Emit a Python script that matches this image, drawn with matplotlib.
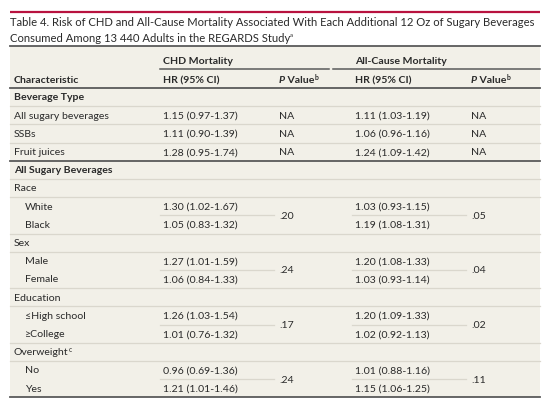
import matplotlib
matplotlib.use("Agg")
import matplotlib.pyplot as plt

plt.rcParams['font.family'] = ['Lato', 'DejaVu Sans']

title_lines = ["Table 4. Risk of CHD and All-Cause Mortality Associated With Each Additional 12 Oz of Sugary Beverages",
               "Consumed Among 13 440 Adults in the REGARDS Study"]
group_headers = ["CHD Mortality", "All-Cause Mortality"]
col_headers = ["Characteristic", "HR (95% CI)", "P Value", "HR (95% CI)", "P Value"]

# row label, level (0 = section bold, 1 = subgroup, 2 = indented item)
labels = ["Beverage Type", "All sugary beverages", "SSBs", "Fruit juices",
          "All Sugary Beverages", "Race", "White", "Black", "Sex", "Male", "Female",
          "Education", "\u2264High school", "\u2265College", "Overweight", "No", "Yes"]
levels = [0, 1, 1, 1, 0, 1, 2, 2, 1, 2, 2, 1, 2, 2, 1, 2, 2]
chd_hr = ["", "1.15 (0.97-1.37)", "1.11 (0.90-1.39)", "1.28 (0.95-1.74)",
          "", "", "1.30 (1.02-1.67)", "1.05 (0.83-1.32)", "", "1.27 (1.01-1.59)", "1.06 (0.84-1.33)",
          "", "1.26 (1.03-1.54)", "1.01 (0.76-1.32)", "", "0.96 (0.69-1.36)", "1.21 (1.01-1.46)"]
all_hr = ["", "1.11 (1.03-1.19)", "1.06 (0.96-1.16)", "1.24 (1.09-1.42)",
          "", "", "1.03 (0.93-1.15)", "1.19 (1.08-1.31)", "", "1.20 (1.08-1.33)", "1.03 (0.93-1.14)",
          "", "1.20 (1.09-1.33)", "1.02 (0.92-1.13)", "", "1.01 (0.88-1.16)", "1.15 (1.06-1.25)"]
chd_p = ["", "NA", "NA", "NA", "", "", ".20", None, "", ".24", None, "", ".17", None, "", ".24", None]
all_p = ["", "NA", "NA", "NA", "", "", ".05", None, "", ".04", None, "", ".02", None, "", ".11", None]

W, H = 550, 410
fig = plt.figure(figsize=(W / 100, H / 100), dpi=100)
ax = fig.add_axes([0, 0, 1, 1])
ax.set_xlim(0, W)
ax.set_ylim(H, 0)
ax.axis('off')
fig.patch.set_facecolor('white')

BG = '#f2f0e8'
TXT = '#2a2a2a'
DARK = '#5a5a5a'
LIGHT = '#dad7cd'
RED = '#b8123f'

L, R = 10, 540
X_CHAR, X_IND = 14, 25
X_HR1, X_P1, X_HR2, X_P2 = 163, 279, 355, 471

renderer = fig.canvas.get_renderer()

def fit_size(txt, target_px, base=10.0, **kw):
    t = ax.text(0, 0, txt, fontsize=base, **kw)
    w = t.get_window_extent(renderer).width
    t.remove()
    return base * target_px / w

TFS = fit_size(title_lines[0], 523)
FS = fit_size("1.15 (0.97-1.37)", 74)

def runs(x, y, parts, size=None, va='center'):
    size = FS if size is None else size
    for txt, kw in parts:
        kw = dict(kw)
        s = kw.pop('size', size)
        dy = kw.pop('dy', 0)
        t = ax.text(x, y + dy, txt, fontsize=s, color=TXT, va=va, ha='left', **kw)
        bb = t.get_window_extent(renderer)
        x = bb.x1
    return x

# red rule and title
ax.plot([L, R], [12.5, 12.5], color=RED, lw=1.6, solid_capstyle='butt')
runs(L, 22.5, [(title_lines[0], {})], size=TFS)
runs(L, 38.5, [(title_lines[1], {}), ("a", {'size': TFS * 0.55, 'dy': -3})], size=TFS)

# table background
row_pitch = 18.2
y0 = 98.0
ys = [y0 + i * row_pitch for i in range(len(labels))]
bottom = ys[-1] + row_pitch / 2
ax.add_patch(plt.Rectangle((L, 47), R - L, bottom - 47, facecolor=BG, edgecolor='none', zorder=0))
ax.plot([L, R], [47, 47], color=DARK, lw=1.3)

# header
ax.text(X_HR1, 61.5, group_headers[0], fontsize=FS, color=TXT, weight='bold', va='center')
ax.text(X_HR2, 61.5, group_headers[1], fontsize=FS, color=TXT, weight='bold', va='center')
ax.plot([X_HR1 - 3, 329], [70, 70], color=DARK, lw=1.1)
ax.plot([333, R], [70, 70], color=DARK, lw=1.1)
yh = 80.5
ax.text(X_CHAR, yh, col_headers[0], fontsize=FS, color=TXT, weight='bold', va='center')
ax.text(X_HR1, yh, col_headers[1], fontsize=FS, color=TXT, weight='bold', va='center')
ax.text(X_HR2, yh, col_headers[3], fontsize=FS, color=TXT, weight='bold', va='center')
for xp in (X_P1, X_P2):
    runs(xp, yh, [("P", {'weight': 'bold', 'style': 'italic'}), (" Value", {'weight': 'bold'}),
                  ("b", {'size': FS * 0.65, 'dy': -3, 'weight': 'bold'})])
ax.plot([L, R], [89, 89], color=DARK, lw=1.3)

# rows
for i, (lab, lev) in enumerate(zip(labels, levels)):
    y = ys[i]
    x = X_IND if lev == 2 else X_CHAR
    if lab == "Overweight":
        runs(x, y, [(lab, {}), ("c", {'size': FS * 0.65, 'dy': -3})])
    else:
        ax.text(x, y, lab, fontsize=FS, color=TXT, va='center',
                weight='bold' if lev == 0 else 'normal')
    if chd_hr[i]:
        ax.text(X_HR1, y, chd_hr[i], fontsize=FS, color=TXT, va='center')
        ax.text(X_HR2, y, all_hr[i], fontsize=FS, color=TXT, va='center')
    if chd_p[i]:
        yp = y if chd_p[i] == "NA" else y + row_pitch / 2
        ax.text(X_P1, yp, chd_p[i], fontsize=FS, color=TXT, va='center')
        ax.text(X_P2, yp, all_p[i], fontsize=FS, color=TXT, va='center')

# separators
for i in range(len(labels) - 1):
    ysep = ys[i] + row_pitch / 2
    if labels[i] == "Fruit juices":
        ax.plot([L, R], [ysep, ysep], color=DARK, lw=1.3)
    elif chd_p[i + 1] is None:
        ax.plot([X_HR1 - 3, X_P1 - 5], [ysep, ysep], color=LIGHT, lw=0.9)
        ax.plot([X_HR2 - 3, X_P2 - 5], [ysep, ysep], color=LIGHT, lw=0.9)
    else:
        ax.plot([L, R], [ysep, ysep], color=LIGHT, lw=0.9)
ax.plot([L, R], [bottom, bottom], color=DARK, lw=1.3)

fig.savefig("out.png", dpi=100, facecolor='white')
